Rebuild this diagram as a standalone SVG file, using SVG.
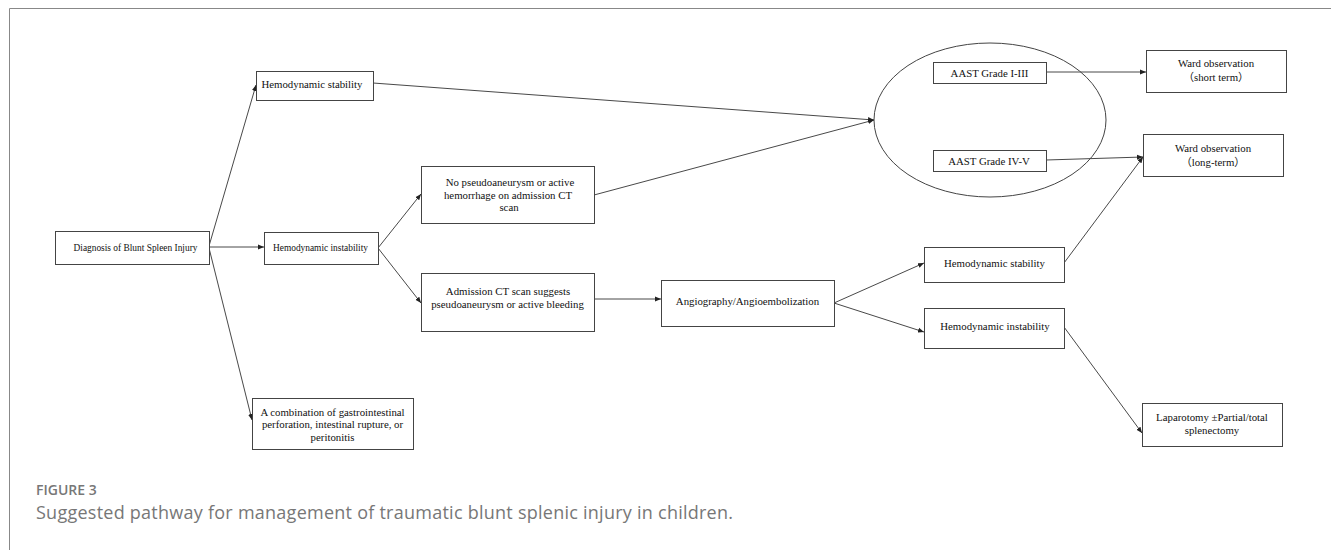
<svg xmlns="http://www.w3.org/2000/svg" width="1331" height="550" viewBox="0 0 1331 550">
<defs>
<style>
.box{fill:#fff;stroke:#444;stroke-width:1}
.t{font-family:"Liberation Serif","Noto Sans CJK SC",serif;font-size:10.8px;fill:#111;text-anchor:middle}
.s{font-size:9.4px}
.c{stroke:#333;stroke-width:0.9;fill:none;marker-end:url(#ah)}
.cap{font-family:"Open Sans","Noto Sans",sans-serif;fill:#777}
</style>
<marker id="ah" markerUnits="userSpaceOnUse" markerWidth="8" markerHeight="6" refX="6" refY="3" orient="auto">
<path d="M0,0.5 L6,3 L0,5.5 Z" fill="#222"/>
</marker>
</defs>
<rect width="1331" height="550" fill="#fff"/>
<path d="M9.5,550 V8.5 H1331" fill="none" stroke="#888" stroke-width="1"/>

<g id="connectors">
<line class="c" x1="209" y1="246" x2="256" y2="85"/>
<line class="c" x1="209" y1="247" x2="264" y2="247"/>
<line class="c" x1="209" y1="248" x2="252" y2="420"/>
<line class="c" x1="378" y1="248" x2="421" y2="194"/>
<line class="c" x1="378" y1="248" x2="421" y2="303"/>
<line class="c" x1="373" y1="83" x2="874" y2="120"/>
<line class="c" x1="594" y1="195" x2="874" y2="120"/>
<line class="c" x1="594" y1="299" x2="661" y2="299"/>
<line class="c" x1="834" y1="303" x2="924" y2="263"/>
<line class="c" x1="834" y1="303" x2="924" y2="332"/>
<line class="c" x1="1064" y1="263" x2="1143" y2="157"/>
<line class="c" x1="1046" y1="72" x2="1146" y2="72"/>
<line class="c" x1="1046" y1="160" x2="1143" y2="157"/>
<line class="c" x1="1064" y1="327" x2="1142" y2="433"/>
</g>

<g id="diagnosis">
<rect class="box" x="55.5" y="231.5" width="154" height="33"/>
<text class="t s" x="135.5" y="251">Diagnosis of Blunt Spleen Injury</text>
</g>
<g id="hemo-stability-1">
<rect class="box" x="256.5" y="71.5" width="117" height="29"/>
<text class="t" x="312" y="88">Hemodynamic stability</text>
</g>
<g id="hemo-instability-1">
<rect class="box" x="264.5" y="232.5" width="114" height="32"/>
<text class="t s" x="320.5" y="251">Hemodynamic instability</text>
</g>
<g id="combination">
<rect class="box" x="252.5" y="398.5" width="161" height="51"/>
<text class="t" x="332.5" y="415.5">A combination of gastrointestinal</text>
<text class="t" x="332.5" y="428">perforation, intestinal rupture, or</text>
<text class="t" x="332.5" y="440.5">peritonitis</text>
</g>
<g id="no-pseudo">
<rect class="box" x="421.5" y="166.5" width="173" height="57"/>
<text class="t" x="510" y="186">No pseudoaneurysm or active</text>
<text class="t" x="508" y="198.5">hemorrhage on admission CT</text>
<text class="t" x="509" y="211">scan</text>
</g>
<g id="admission-ct">
<rect class="box" x="421.5" y="273.5" width="173" height="58"/>
<text class="t" x="508" y="294.5">Admission CT scan suggests</text>
<text class="t" x="507.5" y="307.5">pseudoaneurysm or active bleeding</text>
</g>
<g id="angiography">
<rect class="box" x="661.5" y="280.5" width="173" height="46"/>
<text class="t" x="747.5" y="304.5">Angiography/Angioembolization</text>
</g>
<g id="aast-group">
<ellipse cx="990" cy="120" rx="116" ry="77" fill="none" stroke="#444" stroke-width="1"/>
</g>
<g id="aast-1-3">
<rect class="box" x="933.5" y="62.5" width="113" height="21"/>
<text class="t" x="989.5" y="76.5">AAST Grade I-III</text>
</g>
<g id="aast-4-5">
<rect class="box" x="933.5" y="150.5" width="113" height="21"/>
<text class="t" x="989" y="164.5">AAST Grade IV-V</text>
</g>
<g id="ward-short">
<rect class="box" x="1146.5" y="50.5" width="140" height="42"/>
<text class="t" x="1216" y="66.5">Ward observation</text>
<text class="t" x="1216" y="80.5">（short term）</text>
</g>
<g id="ward-long">
<rect class="box" x="1143.5" y="134.5" width="140" height="42"/>
<text class="t" x="1213" y="151.5">Ward observation</text>
<text class="t" x="1213" y="166">（long-term）</text>
</g>
<g id="hemo-stability-2">
<rect class="box" x="924.5" y="247.5" width="140" height="35"/>
<text class="t" x="994.5" y="266.5">Hemodynamic stability</text>
</g>
<g id="hemo-instability-2">
<rect class="box" x="924.5" y="308.5" width="140" height="40"/>
<text class="t" x="995" y="329.5">Hemodynamic instability</text>
</g>
<g id="laparotomy">
<rect class="box" x="1142.5" y="403.5" width="140" height="43"/>
<text class="t" x="1212" y="420.5">Laparotomy ±Partial/total</text>
<text class="t" x="1212" y="433.5">splenectomy</text>
</g>

<text class="cap" x="36" y="495" font-size="14" font-weight="600" fill="#666">FIGURE 3</text>
<text class="cap" x="36" y="519" font-size="18" textLength="697" lengthAdjust="spacing">Suggested pathway for management of traumatic blunt splenic injury in children.</text>
</svg>
